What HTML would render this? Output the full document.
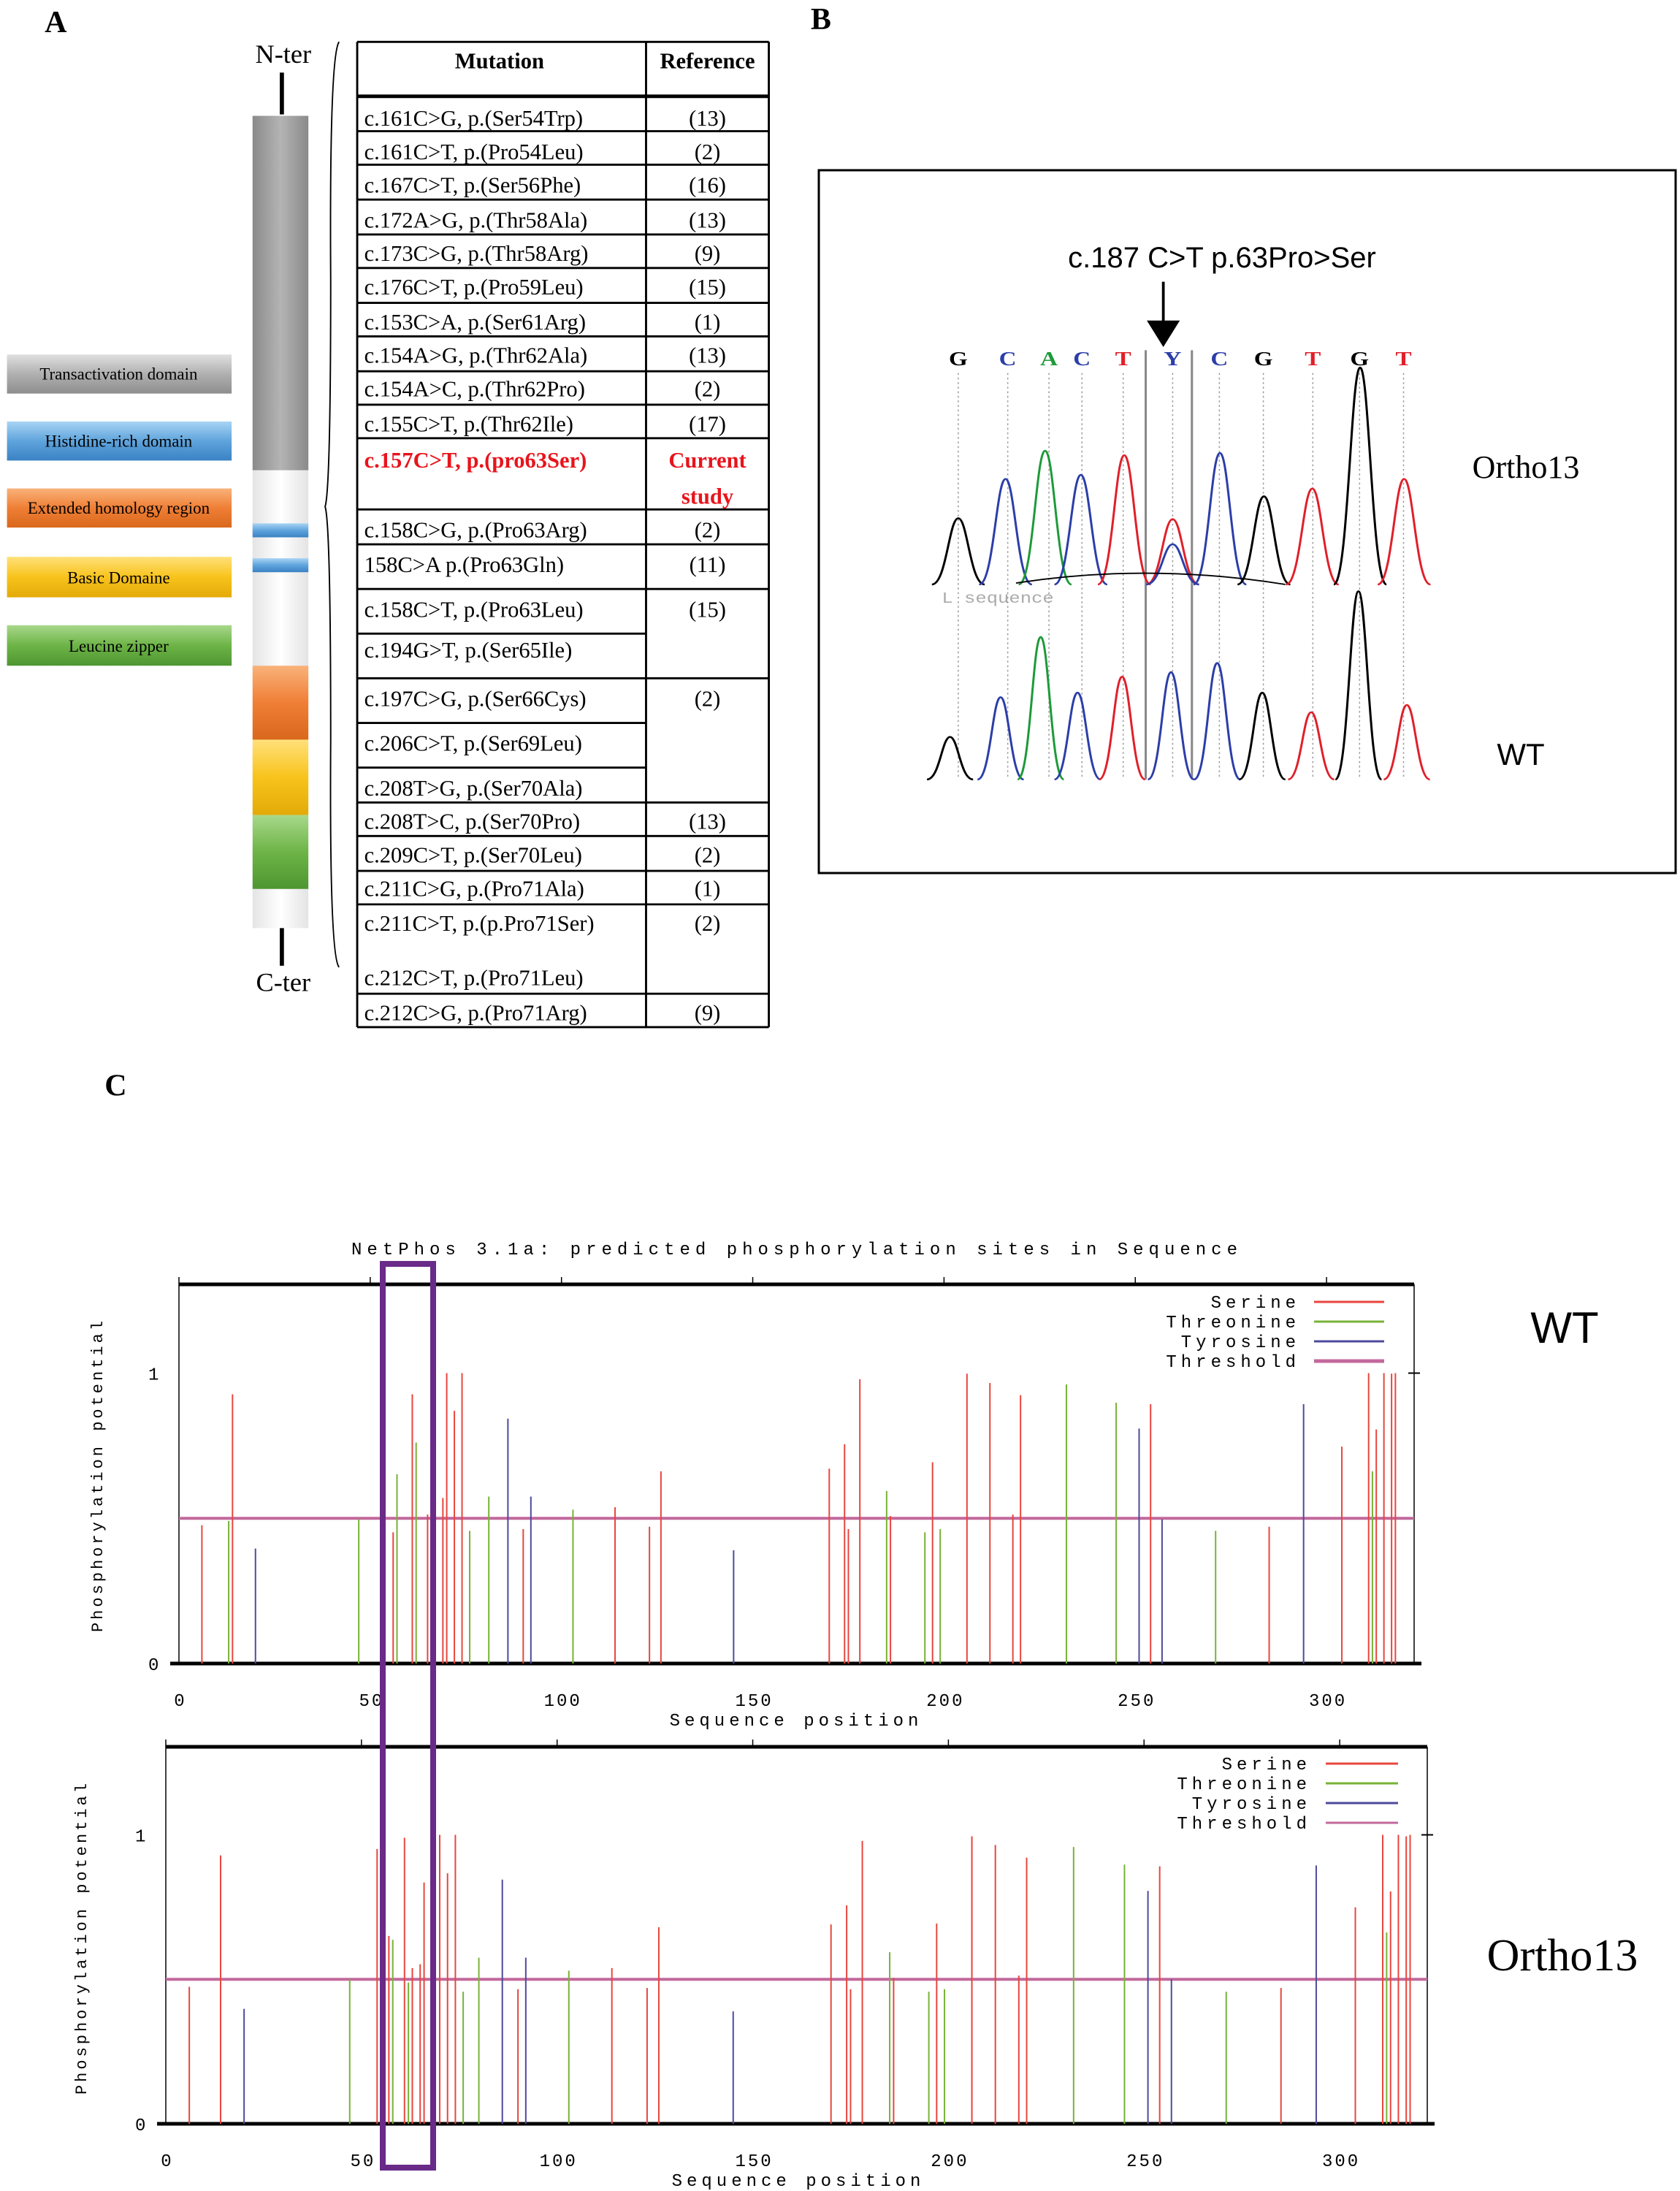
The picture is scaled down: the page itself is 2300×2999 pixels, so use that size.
<!DOCTYPE html>
<html><head><meta charset="utf-8">
<style>
html,body{margin:0;padding:0;background:#fff;}
svg{display:block;}
.mono{font-family:"Liberation Mono","DejaVu Sans Mono",monospace;}
.serif{font-family:"Liberation Serif",serif;}
.sans{font-family:"Liberation Sans",sans-serif;}
</style></head>
<body>
<svg id="fig" width="2300" height="2999" viewBox="0 0 2300 2999" xmlns="http://www.w3.org/2000/svg">
<defs>
<linearGradient id="gGray" x1="0" y1="0" x2="0" y2="1"><stop offset="0" stop-color="#e0e0e0"/><stop offset="0.5" stop-color="#b0b0b0"/><stop offset="1" stop-color="#8e8e8e"/></linearGradient>
<linearGradient id="gBlue" x1="0" y1="0" x2="0" y2="1"><stop offset="0" stop-color="#a8d4f4"/><stop offset="0.5" stop-color="#5fa4dc"/><stop offset="1" stop-color="#3a82c4"/></linearGradient>
<linearGradient id="gOrange" x1="0" y1="0" x2="0" y2="1"><stop offset="0" stop-color="#f9b27a"/><stop offset="0.5" stop-color="#ef7f35"/><stop offset="1" stop-color="#d9681d"/></linearGradient>
<linearGradient id="gYellow" x1="0" y1="0" x2="0" y2="1"><stop offset="0" stop-color="#ffe17a"/><stop offset="0.5" stop-color="#f8c31c"/><stop offset="1" stop-color="#e3aa08"/></linearGradient>
<linearGradient id="gGreen" x1="0" y1="0" x2="0" y2="1"><stop offset="0" stop-color="#a8d88a"/><stop offset="0.5" stop-color="#6db447"/><stop offset="1" stop-color="#4e9631"/></linearGradient>
<linearGradient id="gBar" x1="0" y1="0" x2="1" y2="0"><stop offset="0" stop-color="#8a8a8a"/><stop offset="0.5" stop-color="#b4b4b4"/><stop offset="1" stop-color="#8a8a8a"/></linearGradient>
<linearGradient id="gWhite" x1="0" y1="0" x2="1" y2="0"><stop offset="0" stop-color="#e4e4e4"/><stop offset="0.5" stop-color="#ffffff"/><stop offset="1" stop-color="#e4e4e4"/></linearGradient>
</defs>

<g transform="scale(1.9103)">
  <text x="32" y="23" class="serif" font-size="22" font-weight="bold">A</text>
  <text x="581" y="21" class="serif" font-size="22" font-weight="bold">B</text>
  <text x="75" y="785" class="serif" font-size="22" font-weight="bold">C</text>

  <text x="203" y="45" class="serif" font-size="19" text-anchor="middle">N-ter</text>
  <line x1="202" y1="52" x2="202" y2="82" stroke="#000" stroke-width="3"/>
  <g>
    <rect x="181" y="83" width="40" height="254" fill="url(#gBar)"/>
    <rect x="181" y="337" width="40" height="140" fill="url(#gWhite)"/>
    <rect x="181" y="375" width="40" height="10" fill="url(#gBlue)"/>
    <rect x="181" y="400" width="40" height="10" fill="url(#gBlue)"/>
    <rect x="181" y="477" width="40" height="53" fill="url(#gOrange)"/>
    <rect x="181" y="530" width="40" height="54" fill="url(#gYellow)"/>
    <rect x="181" y="584" width="40" height="53" fill="url(#gGreen)"/>
    <rect x="181" y="637" width="40" height="28" fill="url(#gWhite)"/>
  </g>
  <line x1="202" y1="665" x2="202" y2="692" stroke="#000" stroke-width="3"/>
  <text x="203" y="710" class="serif" font-size="19" text-anchor="middle">C-ter</text>

  <g class="serif" font-size="12" text-anchor="middle">
    <rect x="5" y="254" width="161" height="28" fill="url(#gGray)"/>
    <text x="85" y="272">Transactivation domain</text>
    <rect x="5" y="302" width="161" height="28" fill="url(#gBlue)"/>
    <text x="85" y="320">Histidine-rich domain</text>
    <rect x="5" y="350" width="161" height="28" fill="url(#gOrange)"/>
    <text x="85" y="368">Extended homology region</text>
    <rect x="5" y="399" width="161" height="29" fill="url(#gYellow)"/>
    <text x="85" y="418">Basic Domaine</text>
    <rect x="5" y="448" width="161" height="29" fill="url(#gGreen)"/>
    <text x="85" y="467">Leucine zipper</text>
  </g>

  <path d="M243,30 Q236,40 237,200 Q237,350 233,363 Q237,376 237,530 Q236,685 243,693" fill="none" stroke="#000" stroke-width="1"/>

  <g>
    <g stroke="#000" stroke-width="1.5">
      <line x1="256" y1="30" x2="256" y2="736"/><line x1="463" y1="30" x2="463" y2="736"/><line x1="551" y1="30" x2="551" y2="736"/>
      <line x1="256" y1="30" x2="551" y2="30"/><line x1="256" y1="69" x2="551" y2="69" stroke-width="2.5"/>
      <line x1="256" y1="94" x2="551" y2="94"/><line x1="256" y1="118" x2="551" y2="118"/><line x1="256" y1="143" x2="551" y2="143"/>
      <line x1="256" y1="168" x2="551" y2="168"/><line x1="256" y1="192" x2="551" y2="192"/><line x1="256" y1="217" x2="551" y2="217"/>
      <line x1="256" y1="241" x2="551" y2="241"/><line x1="256" y1="266" x2="551" y2="266"/><line x1="256" y1="290" x2="551" y2="290"/>
      <line x1="256" y1="314" x2="551" y2="314"/><line x1="256" y1="365" x2="551" y2="365"/><line x1="256" y1="390" x2="551" y2="390"/>
      <line x1="256" y1="422" x2="551" y2="422"/><line x1="256" y1="454" x2="463" y2="454"/><line x1="256" y1="486" x2="551" y2="486"/>
      <line x1="256" y1="518" x2="463" y2="518"/><line x1="256" y1="550" x2="463" y2="550"/><line x1="256" y1="575" x2="551" y2="575"/>
      <line x1="256" y1="599" x2="551" y2="599"/><line x1="256" y1="624" x2="551" y2="624"/><line x1="256" y1="648" x2="551" y2="648"/>
      <line x1="256" y1="712" x2="551" y2="712"/><line x1="256" y1="736" x2="551" y2="736"/>
    </g>
    <g class="serif" font-size="16">
      <text x="358" y="49" font-weight="bold" text-anchor="middle">Mutation</text>
      <text x="507" y="49" font-weight="bold" text-anchor="middle">Reference</text>
      <g>
        <text x="261" y="90">c.161C&gt;G, p.(Ser54Trp)</text><text x="507" y="90" text-anchor="middle">(13)</text>
        <text x="261" y="114">c.161C&gt;T, p.(Pro54Leu)</text><text x="507" y="114" text-anchor="middle">(2)</text>
        <text x="261" y="138">c.167C&gt;T, p.(Ser56Phe)</text><text x="507" y="138" text-anchor="middle">(16)</text>
        <text x="261" y="163">c.172A&gt;G, p.(Thr58Ala)</text><text x="507" y="163" text-anchor="middle">(13)</text>
        <text x="261" y="187">c.173C&gt;G, p.(Thr58Arg)</text><text x="507" y="187" text-anchor="middle">(9)</text>
        <text x="261" y="211">c.176C&gt;T, p.(Pro59Leu)</text><text x="507" y="211" text-anchor="middle">(15)</text>
        <text x="261" y="236">c.153C&gt;A, p.(Ser61Arg)</text><text x="507" y="236" text-anchor="middle">(1)</text>
        <text x="261" y="260">c.154A&gt;G, p.(Thr62Ala)</text><text x="507" y="260" text-anchor="middle">(13)</text>
        <text x="261" y="284">c.154A&gt;C, p.(Thr62Pro)</text><text x="507" y="284" text-anchor="middle">(2)</text>
        <text x="261" y="309">c.155C&gt;T, p.(Thr62Ile)</text><text x="507" y="309" text-anchor="middle">(17)</text>
        <text x="261" y="335" fill="#e8141c" font-weight="bold">c.157C&gt;T, p.(pro63Ser)</text>
        <text x="507" y="335" fill="#e8141c" font-weight="bold" text-anchor="middle">Current</text>
        <text x="507" y="361" fill="#e8141c" font-weight="bold" text-anchor="middle">study</text>
        <text x="261" y="385">c.158C&gt;G, p.(Pro63Arg)</text><text x="507" y="385" text-anchor="middle">(2)</text>
        <text x="261" y="410">158C&gt;A p.(Pro63Gln)</text><text x="507" y="410" text-anchor="middle">(11)</text>
        <text x="261" y="442">c.158C&gt;T, p.(Pro63Leu)</text><text x="507" y="442" text-anchor="middle">(15)</text>
        <text x="261" y="471">c.194G&gt;T, p.(Ser65Ile)</text>
        <text x="261" y="506">c.197C&gt;G, p.(Ser66Cys)</text><text x="507" y="506" text-anchor="middle">(2)</text>
        <text x="261" y="538">c.206C&gt;T, p.(Ser69Leu)</text>
        <text x="261" y="570">c.208T&gt;G, p.(Ser70Ala)</text>
        <text x="261" y="594">c.208T&gt;C, p.(Ser70Pro)</text><text x="507" y="594" text-anchor="middle">(13)</text>
        <text x="261" y="618">c.209C&gt;T, p.(Ser70Leu)</text><text x="507" y="618" text-anchor="middle">(2)</text>
        <text x="261" y="642">c.211C&gt;G, p.(Pro71Ala)</text><text x="507" y="642" text-anchor="middle">(1)</text>
        <text x="261" y="667">c.211C&gt;T, p.(p.Pro71Ser)</text><text x="507" y="667" text-anchor="middle">(2)</text>
        <text x="261" y="706">c.212C&gt;T, p.(Pro71Leu)</text>
        <text x="261" y="731">c.212C&gt;G, p.(Pro71Arg)</text><text x="507" y="731" text-anchor="middle">(9)</text>
      </g>
    </g>
  </g>
</g>

<g>
  <rect x="1121" y="233" width="1173" height="962" fill="none" stroke="#000" stroke-width="3"/>
  <text x="1673" y="366" class="sans" font-size="40" text-anchor="middle">c.187 C&gt;T p.63Pro&gt;Ser</text>
  <text x="2089" y="654" class="serif" font-size="44" text-anchor="middle">Ortho13</text>
  <text x="2082" y="1047" class="sans" font-size="42" text-anchor="middle">WT</text>
  <g id="chromo" transform="translate(1120,220) scale(0.7526,0.625)">
    <line x1="628" y1="265" x2="628" y2="360" stroke="#000" stroke-width="5"/>
    <polygon points="598,350 658,350 628,408" fill="#000"/>
    <line x1="596" y1="415" x2="596" y2="1355" stroke="#888" stroke-width="4"/>
    <line x1="680" y1="415" x2="680" y2="1355" stroke="#888" stroke-width="4"/>
    <text x="225" y="968" fill="#aaa" class="mono" font-size="34">L sequence</text>
  </g>
</g>

<g id="panelC">
  <text x="1091" y="1717" class="mono" font-size="24" letter-spacing="7" text-anchor="middle">NetPhos 3.1a: predicted phosphorylation sites in Sequence</text>
  <text x="2142" y="1838" class="sans" font-size="60" text-anchor="middle">WT</text>
  <text x="2139" y="2697" class="serif" font-size="62" text-anchor="middle">Ortho13</text>
  <g id="wtChart"></g>
  <g id="orChart"></g>
  <rect x="524" y="1730" width="69" height="1237" fill="none" stroke="#6a2a88" stroke-width="8"/>
</g>
</svg>

<script>
const baseLetters = ["G","C","A","C","T","Y","C","G","T","G","T"];
const letterX = [255,345,420,480,555,645,730,810,900,985,1065];
const orthoPeakBase = ["G","C","A","C","T","T","C","G","T","G","T"];
const orthoPeakX = [255,341,413,478,557,645,731,811,899,986,1066];
const orthoPeakTop = [783,697,635,688,645,785,640,735,718,453,697];
const wtPeakBase = ["G","C","A","C","T","C","C","G","T","G","T"];
const wtPeakX = [240,332,405,472,553,642,726,808,897,983,1071];
const wtPeakTop = [1262,1175,1043,1165,1130,1120,1100,1165,1208,943,1192];

const wtSerPos = [6,14,56,61,65,69,70,72,74,90,114,123,126,170,174,175,178,186,197,206,212,218,220,254,285,304,311,313,315,317,318];
const wtSerVal = [0.476,0.927,0.452,0.927,0.513,0.57,1.0,0.87,1.0,0.463,0.538,0.471,0.662,0.671,0.755,0.463,0.979,0.508,0.693,0.998,0.966,0.513,0.924,0.893,0.471,0.747,1.0,0.806,1.0,0.998,1.0];
const wtThrPos = [13,47,57,62,76,81,103,185,195,199,232,245,271,312];
const wtThrVal = [0.491,0.497,0.652,0.761,0.457,0.575,0.53,0.594,0.452,0.463,0.961,0.898,0.457,0.662];
const wtTyrPos = [20,86,92,145,251,257,294];
const wtTyrVal = [0.396,0.843,0.575,0.39,0.809,0.497,0.893];
const orSerPos = [6,14,54,56,57,61,63,65,66,68,70,72,74,90,114,123,126,170,174,175,178,186,197,206,212,218,220,254,285,304,311,313,315,317,318];
const orSerVal = [0.474,0.929,0.951,0.526,0.65,0.99,0.539,0.552,0.835,0.571,1.0,0.867,1.0,0.466,0.539,0.47,0.68,0.69,0.756,0.466,0.979,0.505,0.693,0.995,0.965,0.513,0.921,0.891,0.47,0.749,1.0,0.804,1.0,0.995,1.0];
const orThrPos = [14,47,58,62,76,80,103,185,195,199,232,245,271,312];
const orThrVal = [0.487,0.5,0.637,0.489,0.457,0.575,0.53,0.594,0.457,0.466,0.958,0.897,0.457,0.662];
const orTyrPos = [20,86,92,145,251,257,294];
const orTyrVal = [0.398,0.845,0.575,0.389,0.806,0.5,0.894];
const xTicks = [0,50,100,150,200,250,300];
const yTicks = [0,1];
const threshold = 0.5;
const legendNames = ["Serine","Threonine","Tyrosine","Threshold"];

const NS = "http://www.w3.org/2000/svg";
function mk(tag, attrs, parent){
  const e = document.createElementNS(NS, tag);
  for (const k in attrs) e.setAttribute(k, attrs[k]);
  parent.appendChild(e);
  return e;
}
const baseColor = {G:"#000000",C:"#2c3ea8",A:"#1e9a3a",T:"#e0202a",Y:"#2c3ea8"};

const chromo = document.getElementById("chromo");
baseLetters.forEach((b,i)=>{
  const t = mk("text",{x:letterX[i], y:448, "text-anchor":"middle", "font-size":44, "font-weight":"bold", fill:baseColor[b], "font-family":"Liberation Serif, serif"}, chromo);
  t.textContent = b;
  
  
  const d = mk("line",{x1:letterX[i], y1:465, x2:letterX[i], y2:1355, stroke:"#999", "stroke-width":2, "stroke-dasharray":"4,6"}, chromo);
  
  
});
function peaks(xs, tops, bases, baseline, w, name){
  xs.forEach((x,i)=>{
    const top = tops[i];
    const p = mk("path",{d:`M${x-w},${baseline} C${x-w*0.45},${baseline} ${x-w*0.35},${top} ${x},${top} C${x+w*0.35},${top} ${x+w*0.45},${baseline} ${x+w},${baseline}`, fill:"none", stroke:baseColor[bases[i]], "stroke-width":4}, chromo);
    
    
  });
}
peaks(orthoPeakX, orthoPeakTop, orthoPeakBase, 928, 48, 'ortho13-peak');
peaks([645],[840],["C"],928,48,'ortho13-peak');
peaks(wtPeakX, wtPeakTop, wtPeakBase, 1355, 42, 'wt-peak');
const bl = mk("path",{d:"M360,925 Q600,880 850,928", fill:"none", stroke:"#000", "stroke-width":3}, chromo);



const COL = {ser:"#e8463e", thr:"#78b236", tyr:"#4e4a9c", thr2:"#c2689c"};
function drawChart(g, cfg, ser, thr, tyr){
  const xs = v => cfg.x0 + v*cfg.per;
  const ys = v => cfg.y0 - v*(cfg.y0-cfg.y1);
  const top = mk("line",{x1:cfg.x0, y1:cfg.top, x2:cfg.right, y2:cfg.top, stroke:"#000", "stroke-width":5}, g);
  
  
  const bot = mk("line",{x1:cfg.x0-12, y1:cfg.y0, x2:cfg.right+10, y2:cfg.y0, stroke:"#000", "stroke-width":5}, g);
  
  
  const lft = mk("line",{x1:cfg.x0, y1:cfg.top, x2:cfg.x0, y2:cfg.y0, stroke:"#000", "stroke-width":1.5}, g);
  
  
  const rgt = mk("line",{x1:cfg.right, y1:cfg.top, x2:cfg.right, y2:cfg.y0, stroke:"#000", "stroke-width":1.5}, g);
  
  
  xTicks.forEach(t=>{
    const tk = mk("line",{x1:xs(t), y1:cfg.top-10, x2:xs(t), y2:cfg.top, stroke:"#000", "stroke-width":1.5}, g);
    
    
    const lb = mk("text",{x:xs(t)+2, y:cfg.y0+58, "text-anchor":"middle", "font-size":24, "letter-spacing":"3", "font-family":"Liberation Mono, monospace"}, g);
    lb.textContent = t;
    
    
  });
  yTicks.forEach(t=>{
    const tk = mk("line",{x1:cfg.right-8, y1:ys(t), x2:cfg.right+8, y2:ys(t), stroke:"#000", "stroke-width":2}, g);
    
    
    const lb = mk("text",{x:cfg.x0-42, y:ys(t)+9, "font-size":24, "font-family":"Liberation Mono, monospace"}, g);
    lb.textContent = t;
    
    
  });
  const xt = mk("text",{x:cfg.xTitleX, y:cfg.xTitleY, "text-anchor":"middle", "font-size":24, "letter-spacing":"6", "font-family":"Liberation Mono, monospace"}, g);
  xt.textContent = "Sequence position";
  
  
  const yt = mk("text",{x:0, y:0, "text-anchor":"middle", "font-size":22, "letter-spacing":"4", "font-family":"Liberation Mono, monospace", transform:`translate(${cfg.yTitleX},${cfg.yTitleY}) rotate(-90)`}, g);
  yt.textContent = "Phosphorylation potential";
  
  
  const th = mk("line",{x1:cfg.x0, y1:ys(threshold), x2:cfg.right, y2:ys(threshold), stroke:COL.thr2, "stroke-width":4}, g);
  
  
  function bars(pos, val, col, name){
    pos.forEach((p,i)=>{
      const b = mk("line",{x1:xs(p), y1:cfg.y0, x2:xs(p), y2:ys(val[i]), stroke:col, "stroke-width":2}, g);
      
      
    });
  }
  bars(thr[0], thr[1], COL.thr, 'threonine-bar');
  bars(tyr[0], tyr[1], COL.tyr, 'tyrosine-bar');
  bars(ser[0], ser[1], COL.ser, 'serine-bar');
  const cols = [COL.ser, COL.thr, COL.tyr, COL.thr2];
  legendNames.forEach((n,i)=>{
    const y = cfg.legY + i*cfg.legDy;
    const lt = mk("text",{x:cfg.legTextX, y:y+8, "text-anchor":"end", "font-size":24, "letter-spacing":"6", "font-family":"Liberation Mono, monospace"}, g);
    lt.textContent = n;
    
    
    const ll = mk("line",{x1:cfg.legL1, y1:y, x2:cfg.legL2, y2:y, stroke:cols[i], "stroke-width": (i===3 && cfg.thickThr)?5:3}, g);
    
    
  });
}
drawChart(document.getElementById("wtChart"),
  {x0:245, per:5.237, y0:2277, y1:1879.5, top:1758, right:1936, xTitleX:1090, xTitleY:2362, yTitleX:140, yTitleY:2019,
   legY:1782, legDy:27, legTextX:1780, legL1:1799, legL2:1895, thickThr:true},
  [wtSerPos, wtSerVal], [wtThrPos, wtThrVal], [wtTyrPos, wtTyrVal]);
drawChart(document.getElementById("orChart"),
  {x0:227, per:5.357, y0:2907, y1:2511.5, top:2391, right:1954, xTitleX:1093, xTitleY:2992, yTitleX:118, yTitleY:2652,
   legY:2414, legDy:27, legTextX:1795, legL1:1815, legL2:1914, thickThr:false},
  [orSerPos, orSerVal], [orThrPos, orThrVal], [orTyrPos, orTyrVal]);
</script>
</body></html>
